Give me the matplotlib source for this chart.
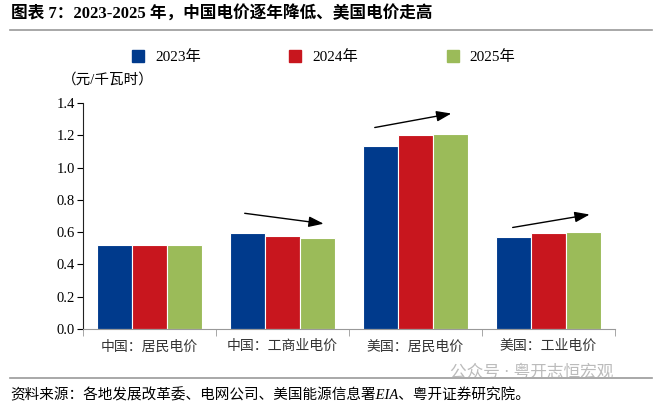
import numpy as np
import matplotlib
matplotlib.use('Agg')
import matplotlib.pyplot as plt
from matplotlib.lines import Line2D

plt.rcParams['font.family'] = ['Liberation Serif', 'Noto Sans CJK SC', 'DejaVu Sans']

categories = ['中国：居民电价', '中国：工商业电价', '美国：居民电价', '美国：工业电价']
years = ['2023年', '2024年', '2025年']
price_2023 = [0.52, 0.597, 1.134, 0.570]
price_2024 = [0.52, 0.577, 1.204, 0.593]
price_2025 = [0.52, 0.563, 1.210, 0.599]
colors = ['#003A8C', '#C8161E', '#9BBB59']

fig = plt.figure(figsize=(6.62, 4.13), dpi=100)
ax = fig.add_axes([0.1254, 0.2034, 0.8036, 0.5472])

x = np.arange(len(categories))
w = 0.263
for i, vals in enumerate([price_2023, price_2024, price_2025]):
    ax.bar(x + (i - 1) * w, vals, width=w, color=colors[i], edgecolor='white', linewidth=0.8)

ax.set_xlim(-0.5, 3.5)
ax.set_ylim(0, 1.4)
ax.set_yticks(np.arange(0, 1.41, 0.2))
ax.set_yticklabels([f'{v:.1f}' for v in np.arange(0, 1.41, 0.2)], fontsize=10.5)
ax.set_xticks(x)
ax.set_xticklabels(categories, fontsize=10, color='#333333')
ax.tick_params(axis='x', length=0, pad=8)
ax.set_xticks(np.arange(-0.5, 3.6, 1), minor=True)
ax.tick_params(axis='x', which='minor', length=5, color='#999999')
ax.tick_params(axis='y', length=4, direction='out', pad=2)
for s in ['top', 'right']:
    ax.spines[s].set_visible(False)
ax.spines['bottom'].set_color('#999999')
ax.spines['left'].set_color('#222222')

# trend arrows
arrows = [((0.695, 0.719), (1.33, 0.65)),
          ((1.673, 1.245), (2.29, 1.338)),
          ((2.71, 0.626), (3.33, 0.712))]
for start, end in arrows:
    ax.annotate('', xy=end, xytext=start,
                arrowprops=dict(arrowstyle='-|>,head_length=0.9,head_width=0.32', color='black', lw=1.0))

# legend
handles = [Line2D([], [], marker='s', linestyle='none', markersize=8,
                  markerfacecolor=c, markeredgecolor=c) for c in colors]
fig.legend(handles, years, loc='center', bbox_to_anchor=(0.482, 0.862), ncol=3,
           frameon=False, fontsize=11, columnspacing=5.2, handletextpad=0.1)

fig.text(0.094, 0.806, '（元/千瓦时）', fontsize=10.5, va='center')

fig.text(0.017, 0.965, '图表 7：2023-2025 年，中国电价逐年降低、美国电价走高',
         fontsize=12, fontweight='bold', va='center')
fig.add_artist(Line2D([0.015, 0.985], [0.927, 0.927], color='#999999', lw=1.2))
fig.add_artist(Line2D([0.015, 0.985], [0.085, 0.085], color='#999999', lw=1.2))
fig.text(0.015, 0.042, '资料来源：各地发展改革委、电网公司、美国能源信息署EIA、粤开证券研究院。',
         fontsize=10.5, style='italic', va='center')
fig.text(0.68, 0.098, '公众号 · 粤开志恒宏观', fontsize=12, color='#AAAAAA', va='center', alpha=0.8)

fig.savefig('out.png', dpi=100)
